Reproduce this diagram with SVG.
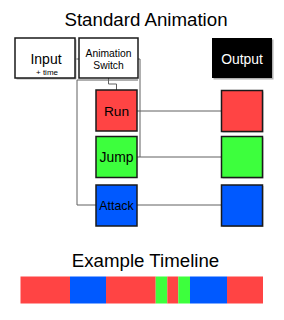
<svg xmlns="http://www.w3.org/2000/svg" width="284" height="320" viewBox="0 0 284 320">
<style>
text{font-family:"Liberation Sans",Arial,sans-serif;text-anchor:middle;fill:#000}
.box{stroke:#1a1a1a;stroke-width:1.5}
.sh{fill:#b0b0b0}
.wire{fill:none;stroke:#606060;stroke-width:1}
.title{font-size:18.7px}
.red{fill:#ff4444}
.green{fill:#3dff3d}
.blue{fill:#0059ff}
</style>
<rect width="284" height="320" fill="#fff"/>
<text class="title" x="146" y="26">Standard Animation</text>

<g id="connectors">
<path class="wire" d="M75 59H79"/>
<path class="wire" d="M138 59H140V157"/>
<path class="wire" d="M108.5 78V84H116.5V90"/>
<path class="wire" d="M138 80H77V205H96"/>
<path class="wire" d="M137 111H221"/>
<path class="wire" d="M137 157H221" stroke="#333"/>
<path class="wire" d="M137 205H221"/>
</g>

<g id="input">
<rect class="sh" x="16.5" y="39.5" width="60" height="40"/>
<rect class="box" x="15" y="38" width="60" height="40" fill="#fff"/>
<text x="46" y="64" font-size="14">Input</text>
<text x="47" y="75" font-size="8">+ time</text>
</g>

<g id="switch">
<rect class="box" x="79" y="38" width="59" height="40" fill="#fff"/>
<text x="108.5" y="56.5" font-size="10.3">Animation</text>
<text x="108.5" y="69" font-size="10.3">Switch</text>
</g>

<g id="output">
<rect class="sh" x="213.5" y="39.5" width="60" height="40"/>
<rect x="212" y="38" width="60" height="40" fill="#000"/>
<text x="242" y="63.5" font-size="13.9" fill="#fff" style="fill:#fff">Output</text>
</g>

<g id="run">
<rect class="box red" x="96" y="90" width="41" height="41"/>
<text x="116.5" y="116" font-size="13.7">Run</text>
</g>
<g id="jump">
<rect class="box green" x="96" y="136.5" width="41" height="41"/>
<text x="116.5" y="161.7" font-size="13.9">Jump</text>
</g>
<g id="attack">
<rect class="box blue" x="96" y="185" width="41" height="41"/>
<text x="116.5" y="210" font-size="12.4">Attack</text>
</g>

<g id="out-run">
<rect class="sh" x="222.5" y="91.5" width="41" height="41"/>
<rect class="box red" x="221.5" y="90.5" width="41" height="41"/>
</g>
<g id="out-jump">
<rect class="sh" x="222.5" y="137.5" width="41" height="41"/>
<rect class="box green" x="221.5" y="136.5" width="41" height="41"/>
</g>
<g id="out-attack">
<rect class="sh" x="222.5" y="186" width="41" height="41"/>
<rect class="box blue" x="221.5" y="185" width="41" height="41"/>
</g>

<text class="title" x="145.5" y="267">Example Timeline</text>
<g id="timeline">
<rect class="red" x="20.5" y="276.5" width="49.5" height="27"/>
<rect class="blue" x="70" y="276.5" width="36" height="27"/>
<rect class="red" x="106" y="276.5" width="49.7" height="27"/>
<rect class="green" x="155.7" y="276.5" width="11.6" height="27"/>
<rect class="red" x="167.3" y="276.5" width="11" height="27"/>
<rect class="green" x="178.3" y="276.5" width="11.7" height="27"/>
<rect class="blue" x="190" y="276.5" width="37" height="27"/>
<rect class="red" x="227" y="276.5" width="36" height="27"/>
</g>
</svg>
